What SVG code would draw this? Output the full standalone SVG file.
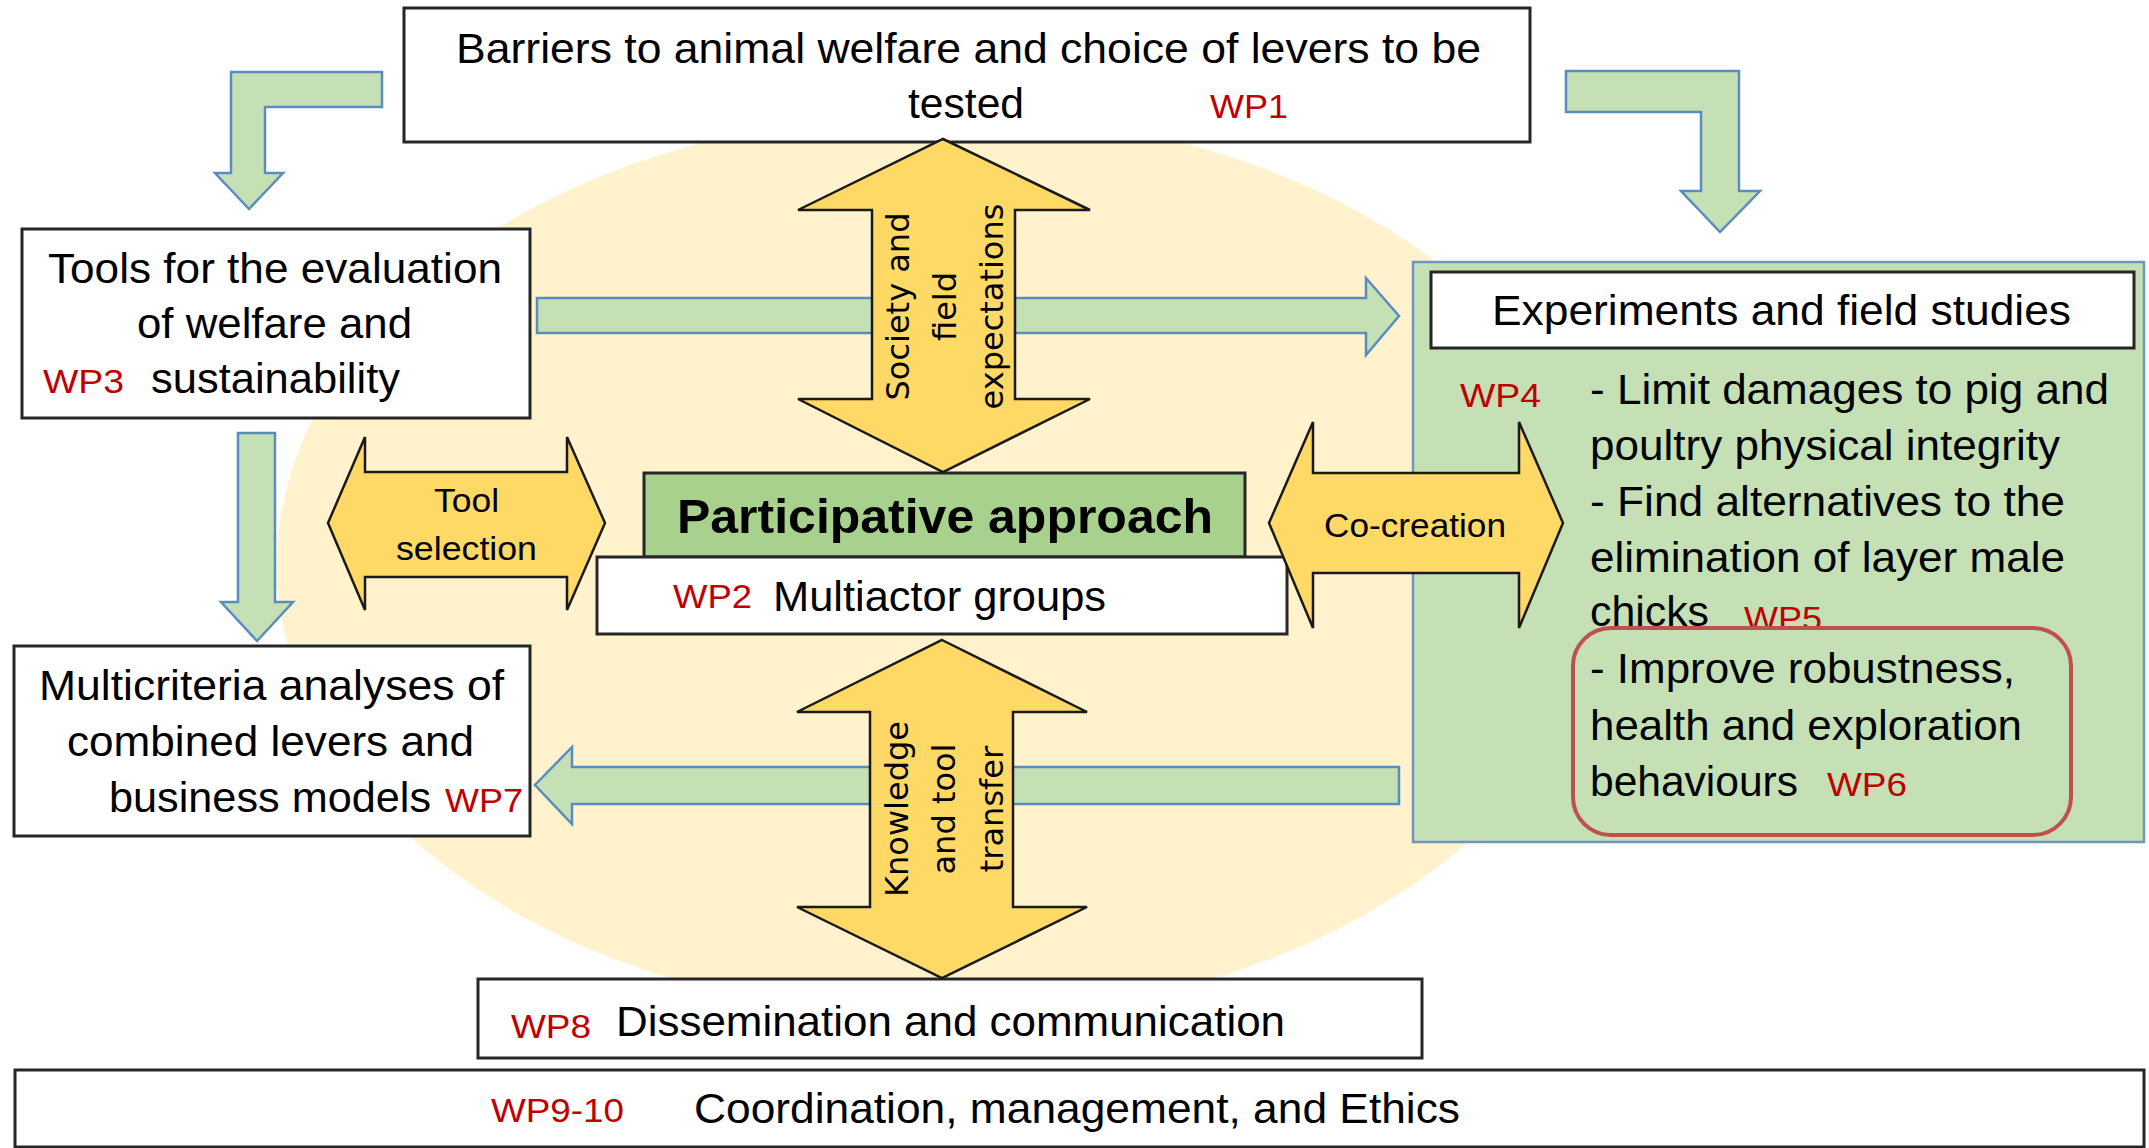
<svg xmlns="http://www.w3.org/2000/svg" width="2149" height="1148" viewBox="0 0 2149 1148">
<style>
.box{fill:#ffffff;stroke:#262626;stroke-width:3}
.t{font-family:"Liberation Sans",Arial,sans-serif;font-size:42px;fill:#000000}
.wp{font-family:"Liberation Sans",Arial,sans-serif;font-size:34px;fill:#c00000}
.ga{fill:#c5e0b4;stroke:#5b8cc0;stroke-width:2.5}
.ya{fill:#ffd966;stroke:#1a1a1a;stroke-width:2.5}
.vt{font-family:"DejaVu Sans",Verdana,sans-serif;font-size:32px;text-anchor:middle;fill:#000000}
.st{font-family:"Liberation Sans",Arial,sans-serif;font-size:34px;fill:#000000}
.bt{font-family:"Liberation Sans",Arial,sans-serif;font-size:49px;font-weight:bold;fill:#000000}
</style>
<rect width="2149" height="1148" fill="#ffffff"/>
<ellipse id="background-ellipse" cx="942" cy="565" rx="665" ry="453" fill="#fff2cc"/>

<g id="wp1">
<rect class="box" x="404" y="8" width="1126" height="134"/>
<text class="t" x="456" y="63" textLength="1025" lengthAdjust="spacingAndGlyphs">Barriers to animal welfare and choice of levers to be</text>
<text class="t" x="908" y="118" textLength="116" lengthAdjust="spacingAndGlyphs">tested</text>
<text class="wp" x="1210" y="118" textLength="78" lengthAdjust="spacingAndGlyphs">WP1</text>
</g>

<g id="wp3">
<rect class="box" x="22" y="229" width="508" height="189"/>
<text class="t" x="48" y="283" textLength="454" lengthAdjust="spacingAndGlyphs">Tools for the evaluation</text>
<text class="t" x="137" y="338" textLength="275" lengthAdjust="spacingAndGlyphs">of welfare and</text>
<text class="wp" x="43" y="393" textLength="81" lengthAdjust="spacingAndGlyphs">WP3</text>
<text class="t" x="151" y="393" textLength="249" lengthAdjust="spacingAndGlyphs">sustainability</text>
</g>

<g id="wp7">
<rect class="box" x="14" y="646" width="516" height="190"/>
<text class="t" x="39" y="700" textLength="465" lengthAdjust="spacingAndGlyphs">Multicriteria analyses of</text>
<text class="t" x="67" y="756" textLength="407" lengthAdjust="spacingAndGlyphs">combined levers and</text>
<text class="t" x="109" y="812" textLength="322" lengthAdjust="spacingAndGlyphs">business models</text>
<text class="wp" x="445" y="812" textLength="78" lengthAdjust="spacingAndGlyphs">WP7</text>
</g>

<g id="experiments">
<rect x="1413" y="262" width="731" height="580" fill="#c5e0b4" stroke="#6f96c2" stroke-width="2.5"/>
<rect class="box" x="1431" y="272" width="703" height="76"/>
<text class="t" x="1492" y="325" textLength="579" lengthAdjust="spacingAndGlyphs">Experiments and field studies</text>
<text class="wp" x="1460" y="407" textLength="81" lengthAdjust="spacingAndGlyphs">WP4</text>
<text class="t" x="1590" y="404" textLength="519" lengthAdjust="spacingAndGlyphs">- Limit damages to pig and</text>
<text class="t" x="1590" y="460" textLength="470" lengthAdjust="spacingAndGlyphs">poultry physical integrity</text>
<text class="t" x="1590" y="516" textLength="475" lengthAdjust="spacingAndGlyphs">- Find alternatives to the</text>
<text class="t" x="1590" y="572" textLength="475" lengthAdjust="spacingAndGlyphs">elimination of layer male</text>
<text class="t" x="1590" y="626" textLength="119" lengthAdjust="spacingAndGlyphs">chicks</text>
<text class="wp" x="1744" y="630" textLength="78" lengthAdjust="spacingAndGlyphs">WP5</text>
<rect x="1573" y="628" width="498" height="207" rx="38" ry="38" fill="#c5e0b4" stroke="#c0504d" stroke-width="4"/>
<text class="t" x="1590" y="683" textLength="425" lengthAdjust="spacingAndGlyphs">- Improve robustness,</text>
<text class="t" x="1590" y="740" textLength="432" lengthAdjust="spacingAndGlyphs">health and exploration</text>
<text class="t" x="1590" y="796" textLength="208" lengthAdjust="spacingAndGlyphs">behaviours</text>
<text class="wp" x="1827" y="796" textLength="80" lengthAdjust="spacingAndGlyphs">WP6</text>
</g>

<g id="wp8">
<rect class="box" x="478" y="979" width="944" height="79"/>
<text class="wp" x="511" y="1038" textLength="80" lengthAdjust="spacingAndGlyphs">WP8</text>
<text class="t" x="616" y="1036" textLength="669" lengthAdjust="spacingAndGlyphs">Dissemination and communication</text>
</g>

<g id="wp9-10">
<rect class="box" x="15" y="1070" width="2129" height="77"/>
<text class="wp" x="491" y="1122" textLength="133" lengthAdjust="spacingAndGlyphs">WP9-10</text>
<text class="t" x="694" y="1123" textLength="766" lengthAdjust="spacingAndGlyphs">Coordination, management, and Ethics</text>
</g>

<g id="connectors">
<polygon class="ga" points="382,72 231,72 231,173 215,173 249,209 283,173 265,173 265,107 382,107"/>
<polygon class="ga" points="1566,71 1739,71 1739,191 1760,191 1720,232 1681,191 1701,191 1701,112 1566,112"/>
<polygon class="ga" points="537,298 1366,298 1366,278 1399,316 1366,355 1366,333 537,333"/>
<polygon class="ga" points="238,433 275,433 275,602 293,602 257,641 221,602 238,602"/>
<polygon class="ga" points="1399,767 572,767 572,747 535,785 572,824 572,804 1399,804"/>
</g>

<g id="wp2">
<rect x="644" y="473" width="601" height="84" fill="#a9d18e" stroke="#262626" stroke-width="3"/>
<text class="bt" x="677" y="533" textLength="536" lengthAdjust="spacingAndGlyphs">Participative approach</text>
<rect class="box" x="597" y="557" width="690" height="77"/>
<text class="wp" x="673" y="608" textLength="79" lengthAdjust="spacingAndGlyphs">WP2</text>
<text class="t" x="773" y="611" textLength="333" lengthAdjust="spacingAndGlyphs">Multiactor groups</text>
</g>

<g id="exchange-arrows">
<g id="society-arrow">
<polygon class="ya" points="943,139 1090,210 1015,210 1015,399 1090,399 943,472 798,399 872,399 872,210 798,210"/>
<text class="vt" transform="translate(909,306.5) rotate(-90)"><tspan x="0" y="0">Society and</tspan><tspan x="0" y="47">field</tspan><tspan x="0" y="94">expectations</tspan></text>
</g>
<g id="knowledge-arrow">
<polygon class="ya" points="942,640 1087,712 1013,712 1013,907 1087,907 942,978 797,907 870,907 870,712 797,712"/>
<text class="vt" transform="translate(908,809) rotate(-90)"><tspan x="0" y="0">Knowledge</tspan><tspan x="0" y="47">and tool</tspan><tspan x="0" y="95">transfer</tspan></text>
</g>
<g id="tool-selection-arrow">
<polygon class="ya" points="328,523 365,437 365,472 567,472 567,437 605,523 567,610 567,577 365,577 365,610"/>
<text class="st" x="434" y="512" textLength="65" lengthAdjust="spacingAndGlyphs">Tool</text>
<text class="st" x="396" y="560" textLength="141" lengthAdjust="spacingAndGlyphs">selection</text>
</g>
<g id="co-creation-arrow">
<polygon class="ya" points="1269,523 1313,422 1313,473 1519,473 1519,422 1563,523 1519,628 1519,573 1313,573 1313,628"/>
<text class="st" x="1324" y="537" textLength="182" lengthAdjust="spacingAndGlyphs">Co-creation</text>
</g>
</g>
</svg>
